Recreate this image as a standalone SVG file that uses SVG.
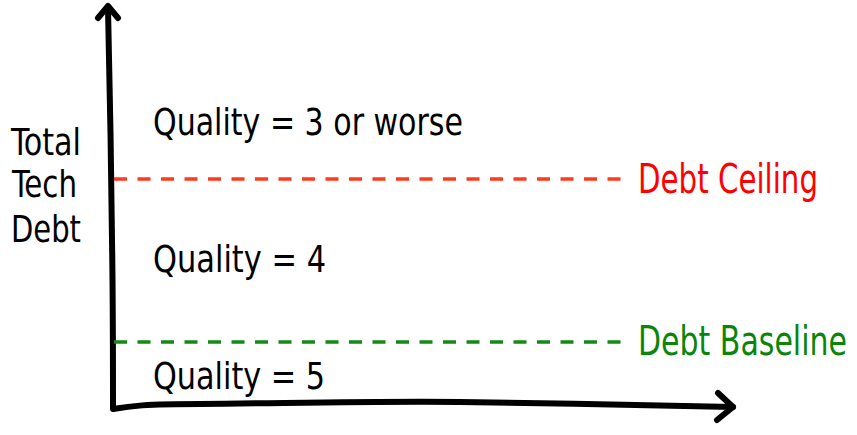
<svg xmlns="http://www.w3.org/2000/svg" width="857" height="435" viewBox="0 0 857 435">
<style>
.t{font-family:"DejaVu Sans Condensed","DejaVu Sans","Liberation Sans",sans-serif;font-size:38px;fill:#000}
.axis{fill:none;stroke:#000;stroke-width:6;stroke-linecap:round;stroke-linejoin:round}
.dash{fill:none;stroke-width:3.5;stroke-dasharray:13 10.5}
</style>
<rect width="857" height="435" fill="#fff"/>
<g id="connectors">
<path class="axis" d="M108,8 C110,90 111,160 112,240 C113,300 113,360 113,409 C130,406 145,404 200,404 C300,403 380,401 460,402 C560,403 620,405 733,407"/>
<path class="axis" d="M98,18 L108,6 L118,18"/>
<path class="axis" d="M718,393 L733,407 L717,420"/>
<line class="dash" x1="114" y1="179" x2="626" y2="179" stroke="#ff3b1c"/>
<line class="dash" x1="114" y1="342" x2="626" y2="342" stroke="#148a14"/>
</g>
<g id="y-label"><text class="t" x="11" y="155" textLength="70" lengthAdjust="spacingAndGlyphs">Total</text><text class="t" x="12" y="197" textLength="65" lengthAdjust="spacingAndGlyphs">Tech</text><text class="t" x="11" y="242" textLength="70" lengthAdjust="spacingAndGlyphs">Debt</text></g>
<g id="q3"><text class="t" x="153" y="135" textLength="310" lengthAdjust="spacingAndGlyphs">Quality = 3 or worse</text></g>
<g id="q4"><text class="t" x="153" y="272" textLength="173" lengthAdjust="spacingAndGlyphs">Quality = 4</text></g>
<g id="q5"><text class="t" x="153" y="389" textLength="172" lengthAdjust="spacingAndGlyphs">Quality = 5</text></g>
<g id="ceiling" transform="translate(638,193) scale(0.82,1)"><text class="t" x="0" y="0" textLength="219.5" lengthAdjust="spacingAndGlyphs" style="fill:#ff0000;font-size:40px">Debt Ceiling</text></g>
<g id="baseline" transform="translate(638,355) scale(0.83,1)"><text class="t" x="0" y="0" textLength="251.8" lengthAdjust="spacingAndGlyphs" style="fill:#0a850a;font-size:40px">Debt Baseline</text></g>
</svg>
